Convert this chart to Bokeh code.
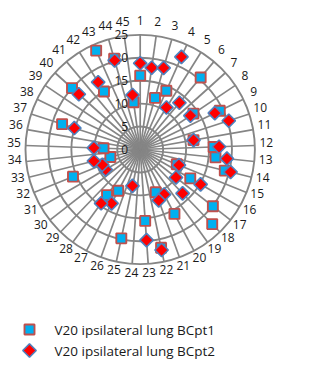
import numpy as np
from bokeh.plotting import figure
from bokeh.models import Range1d, ColumnDataSource
from bokeh.core.properties import value
from bokeh.embed import file_html
from bokeh.resources import INLINE

nan = float("nan")

categories = [str(i) for i in range(1, 46)]
radial_ticks = [0, 5, 10, 15, 20, 25]

series1_name = "V20 ipsilateral lung BCpt1"
series1 = [16.1, nan, 11.7, 14.0, nan, 20.5, nan, 14.0, 19.3, nan,
           11.8, 16.0, 16.5, 19.0, 8.6, 12.6, 20.1, 22.6, nan, 15.9,
           9.9, 21.9, 15.6, nan, 19.8, nan, 10.2, 12.3, nan, nan,
           nan, 15.8, 6.7, nan, 8.0, nan, 17.9, nan, nan, 20.0,
           nan, 14.9, 23.6, 20.6, 10.4]

series2_name = "V20 ipsilateral lung BCpt2"
series2 = [18.8, 18.0, 18.5, 22.1, 10.8, 13.3, nan, 13.2, 18.1, 20.3,
           11.8, 17.2, 19.0, 20.3, 9.1, 15.2, 9.9, 13.3, nan, 11.1,
           11.8, 22.4, 19.8, nan, 8.1, nan, 13.3, 14.5, nan, nan,
           8.7, 8.9, 10.4, nan, 10.1, nan, 15.1, nan, nan, 18.0,
           nan, 17.3, nan, 20.2, 12.0]

# ---- layout constants (pixels) ----
W, H = 295, 359
CX, CY = 139.7, 149.0          # chart centre inside the figure (from top-left)
RMAX = max(radial_ticks)
S = 114.7 / RMAX               # px per unit

def dx(px):  # figure px (from left) -> data x
    return (px - CX) / S

def dy(py):  # figure px (from top) -> data y
    return (CY - py) / S

p = figure(width=W, height=H, output_backend="svg", toolbar_location=None,
           x_range=Range1d(dx(0), dx(W)), y_range=Range1d(dy(H), dy(0)),
           min_border=0, outline_line_color=None)
p.axis.visible = False
p.grid.visible = False
p.background_fill_color = "white"

grid_col = "#858585"
n = len(categories)
theta = np.arange(n) * 2 * np.pi / n

# spokes
p.segment(x0=np.zeros(n), y0=np.zeros(n), x1=RMAX * np.sin(theta), y1=RMAX * np.cos(theta),
          line_color=grid_col, line_width=1.7)
# rings
rings = radial_ticks[1:]
p.circle(x=[0] * len(rings), y=[0] * len(rings), radius=rings, fill_color=None,
         line_color=grid_col, line_width=1.9)

# category labels
lab_r = RMAX + 11.5 / S
p.text(x=lab_r * np.sin(theta), y=lab_r * np.cos(theta) + 3 / S, text=categories,
       text_font=value("Open Sans"), text_font_size="12px", text_color="#1a1a1a",
       text_align="center", text_baseline="middle")

# radial tick labels
p.text(x=[-12 / S] * len(radial_ticks), y=radial_ticks, text=[str(t) for t in radial_ticks],
       text_font=value("Open Sans"), text_font_size="12px", text_color="#1a1a1a",
       text_align="right", text_baseline="middle")

v1 = np.array(series1, dtype=float)
v2 = np.array(series2, dtype=float)
src1 = ColumnDataSource(dict(x=v1 * np.sin(theta), y=v1 * np.cos(theta)))
src2 = ColumnDataSource(dict(x=v2 * np.sin(theta), y=v2 * np.cos(theta)))

sq_kw = dict(marker="square", size=10, fill_color="#00B0F0", line_color="#C0504D", line_width=1.9)
dm_kw = dict(marker="square", size=9.5, angle=np.pi / 4, fill_color="#FF0000",
             line_color="#4F81BD", line_width=1.6)

p.scatter(x="x", y="y", source=src1, **sq_kw)
p.scatter(x="x", y="y", source=src2, **dm_kw)

# legend (drawn manually below the chart)
leg_rows = [dy(337 - 8), dy(358 - 8)]
leg_mx = dx(37 - 8)
leg_tx = dx(62 - 8)
p.scatter(x=[leg_mx], y=[leg_rows[0]], **sq_kw)
p.scatter(x=[leg_mx], y=[leg_rows[1]], **dm_kw)
p.text(x=[leg_tx, leg_tx], y=leg_rows, text=[series1_name, series2_name],
       text_font=value("Open Sans"), text_font_size="13.5px", text_color="#1a1a1a",
       text_align="left", text_baseline="middle")

open("out.html", "w").write(file_html(p, INLINE))
